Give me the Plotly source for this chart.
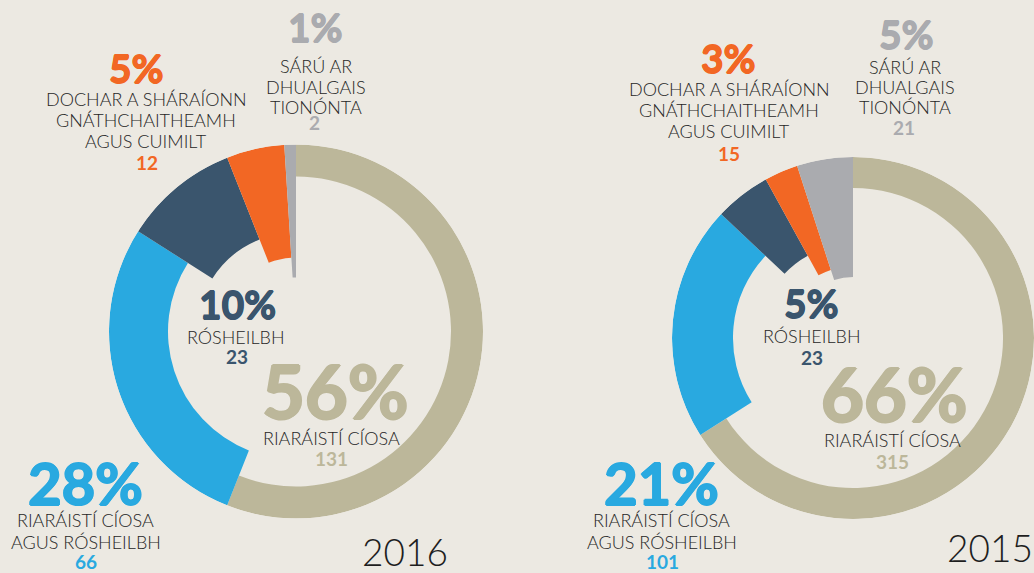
import plotly.graph_objects as go

# ---- data -------------------------------------------------------------
categories = [
    "RIARÁISTÍ CÍOSA",
    "RIARÁISTÍ CÍOSA AGUS RÓSHEILBH",
    "RÓSHEILBH",
    "DOCHAR A SHÁRAÍONN GNÁTHCHAITHEAMH AGUS CUIMILT",
    "SÁRÚ AR DHUALGAIS TIONÓNTA",
]
label_lines = [
    ["RIARÁISTÍ CÍOSA"],
    ["RIARÁISTÍ CÍOSA", "AGUS RÓSHEILBH"],
    ["RÓSHEILBH"],
    ["DOCHAR A SHÁRAÍONN", "GNÁTHCHAITHEAMH", "AGUS CUIMILT"],
    ["SÁRÚ AR", "DHUALGAIS", "TIONÓNTA"],
]
years = ["2016", "2015"]
pct_2016 = [56, 28, 10, 5, 1]
count_2016 = [131, 66, 23, 12, 2]
pct_2015 = [66, 21, 5, 3, 5]
count_2015 = [315, 101, 23, 15, 21]

# ---- style ------------------------------------------------------------
W, H = 1034, 573
BG = "#ECE9E2"
TEXT = "#262626"
colors = ["#BCB79A", "#29A9E0", "#3A556D", "#F26724", "#AAABAF"]
OUTER = 187
inner_2016 = [155, 128, 99, 74, 54]
inner_2015 = [155, 124, 97, 74, 63]
pct_sizes = [74, 58, 39, 39, 39]
FONT = "Lato"

# ring placement (centre x, centre y, radius in px)
rings = [(296, 331.5, 187), (853, 338, 181)]

# label block placement per category:
# (pct x, pct y, text x, [line ys], count x, count y)
blocks_2016 = [
    (335, 390, 331.5, [438], 331, 458.5),
    (85, 482.5, 85.5, [520, 542], 86, 561),
    (237.5, 304, 236, [336.5], 236.5, 356),
    (136, 68.5, 146, [99, 120, 141], 147, 162.5),
    (315, 26.5, 316, [66, 87, 107.5], 314, 123),
]
blocks_2015 = [
    (894, 393.5, 892, [439.5], 892, 461.5),
    (661.5, 482.5, 661.5, [519.5, 541.5], 662, 561.5),
    (811, 302.5, 812, [336], 812, 357),
    (728, 57.5, 729, [89, 110, 131], 729, 153),
    (906, 33.5, 905, [66.5, 87.5, 107.5], 904, 127.5),
]
year_pos = [(405, 551), (990, 547)]


def px(x, y):
    return x / W, 1 - y / H


def heavy(color, size):
    # thicken the bold numerals slightly with a same-colour outline
    d = round(size * 0.016, 2)
    return ", ".join(f"{a}px {b}px 0 {color}" for a, b in
                     [(d, 0), (-d, 0), (0, d), (0, -d)])


def note(x, y, text, size, color, weight, shadow="none"):
    ax, ay = px(x, y)
    return dict(
        x=ax, y=ay, text=text, showarrow=False,
        xanchor="center", yanchor="middle",
        font=dict(family=FONT, size=size, color=color, weight=weight,
                  shadow=shadow),
    )


fig = go.Figure()
annotations = []

charts = [
    (pct_2016, count_2016, inner_2016, blocks_2016),
    (pct_2015, count_2015, inner_2015, blocks_2015),
]

for i, (pcts, counts, inner, blocks) in enumerate(charts):
    sub = "polar" if i == 0 else "polar2"
    # slices run clockwise from twelve o'clock, each sized by its percentage
    widths = [p * 3.6 for p in pcts]
    centers = []
    start = 0.0
    for w in widths:
        centers.append(start + w / 2)
        start += w
    fig.add_trace(go.Barpolar(
        theta=centers,
        width=widths,
        base=inner,
        r=[OUTER - b for b in inner],
        marker=dict(color=colors, line=dict(width=0)),
        subplot=sub,
        hoverinfo="skip",
        showlegend=False,
    ))

    cx, cy, rad = rings[i]
    x0, y1 = px(cx - rad, cy - rad)
    x1, y0 = px(cx + rad, cy + rad)
    fig.update_layout({sub: dict(
        domain=dict(x=[max(0, x0), min(1, x1)], y=[max(0, y0), min(1, y1)]),
        bgcolor="rgba(0,0,0,0)",
        hole=0,
        barmode="overlay",
        bargap=0,
        radialaxis=dict(range=[0, OUTER], visible=False),
        angularaxis=dict(rotation=90, direction="clockwise", visible=False,
                         thetaunit="degrees"),
    )})

    for k, (pxx, py, tx, lys, kx, ky) in enumerate(blocks):
        annotations.append(note(pxx, py, f"{pcts[k]}%", pct_sizes[k], colors[k],
                                700, heavy(colors[k], pct_sizes[k])))
        for line, ly in zip(label_lines[k], lys):
            annotations.append(note(tx, ly, line, 18, TEXT, 300))
        annotations.append(note(kx, ky, str(counts[k]), 19, colors[k], 700))

    annotations.append(note(*year_pos[i], years[i], 37, "#1E1E1E", 300))

fig.update_layout(
    width=W, height=H,
    margin=dict(l=0, r=0, t=0, b=0),
    paper_bgcolor=BG,
    plot_bgcolor=BG,
    annotations=annotations,
    showlegend=False,
)

fig.write_html("out.html")
